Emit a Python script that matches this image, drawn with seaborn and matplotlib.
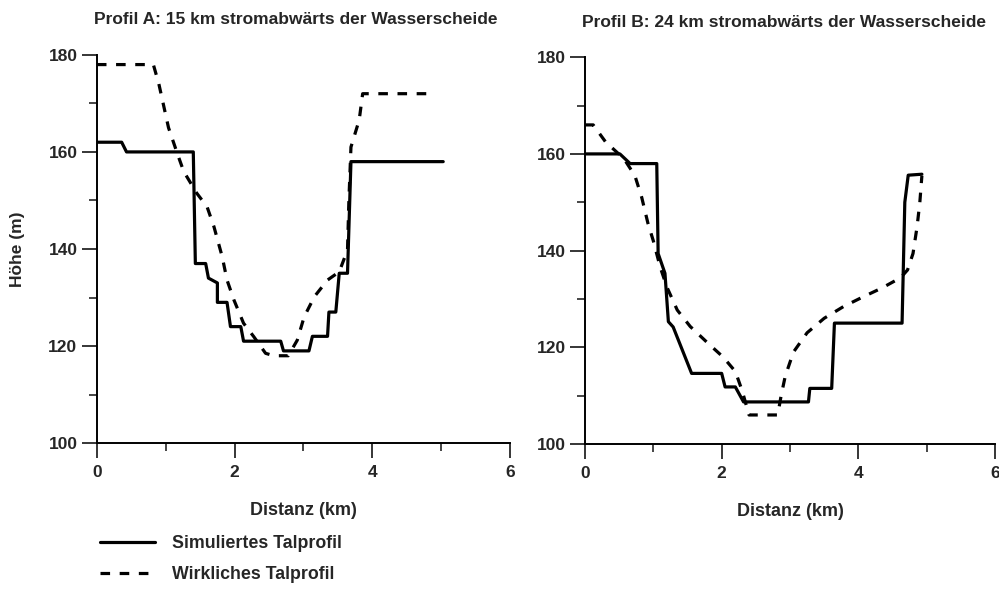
import matplotlib
matplotlib.use("Agg")
import matplotlib.pyplot as plt
from matplotlib.lines import Line2D
from matplotlib.ticker import MultipleLocator
import seaborn as sns
import pandas as pd

# Profil A (15 km stromabwärts)
x_sim_a = [0, 0.36, 0.43, 1.40, 1.43, 1.58, 1.62, 1.75, 1.75, 1.89, 1.94, 2.09, 2.13,
           2.67, 2.71, 3.08, 3.13, 3.35, 3.37, 3.47, 3.52, 3.64, 3.69, 5.03]
h_sim_a = [162, 162, 160, 160, 137, 137, 134, 133, 129, 129, 124, 124, 121,
           121, 119, 119, 122, 122, 127, 127, 135, 135, 158, 158]
x_real_a = [0, 0.82, 0.90, 1.04, 1.16, 1.26, 1.45, 1.60, 1.70, 1.82, 1.89, 1.99, 2.13,
            2.28, 2.45, 2.57, 2.78, 2.91, 3.01, 3.16, 3.35, 3.52, 3.64, 3.66, 3.69,
            3.81, 3.86, 4.84]
h_real_a = [178, 178, 174, 165, 160, 156, 151.5, 148.7, 144.6, 138.4, 133.6, 129.5, 124.7,
            121.9, 118.5, 118, 118, 121.2, 126, 130.2, 133.6, 135.3, 139.8, 150, 161,
            166.6, 172, 172]

# Profil B (24 km stromabwärts)
x_sim_b = [0, 0.51, 0.66, 1.05, 1.07, 1.17, 1.22, 1.29, 1.56, 2.00, 2.05, 2.20, 2.32,
           3.27, 3.29, 3.61, 3.65, 4.64, 4.68, 4.73, 4.93]
h_sim_b = [160, 160, 158, 158, 139.4, 135.3, 125.3, 124.2, 114.6, 114.6, 111.8, 111.8, 108.7,
           108.7, 111.5, 111.5, 125, 125, 150, 155.6, 155.8]
x_real_b = [0, 0.12, 0.30, 0.57, 0.73, 0.83, 0.92, 1.00, 1.10, 1.20, 1.35, 1.54, 1.81,
            2.02, 2.20, 2.30, 2.40, 2.82, 2.87, 2.93, 3.05, 3.25, 3.50, 3.78, 4.05,
            4.35, 4.62, 4.72, 4.80, 4.86, 4.90, 4.93]
h_real_b = [166, 166, 162.5, 159, 155.5, 151, 145.7, 142, 136.6, 132.4, 127.7, 124.3, 120.7,
            118, 115, 111, 106, 106, 110, 114, 119, 123, 126, 128.4, 130.3,
            132.3, 134.4, 136, 139.4, 145, 150, 155.5]

titel_a = "Profil A: 15 km stromabwärts der Wasserscheide"
titel_b = "Profil B: 24 km stromabwärts der Wasserscheide"
legende = ["Simuliertes Talprofil", "Wirkliches Talprofil"]

sns.set_style("ticks")
plt.rcParams['font.family'] = ['Liberation Sans', 'DejaVu Sans']

fig = plt.figure(figsize=(9.99, 5.90), dpi=100)
ax_a = fig.add_axes([0.097, 0.249, 0.4135, 0.658])
ax_b = fig.add_axes([0.5856, 0.2475, 0.4104, 0.6555])

strich = (0, (3, 3))

def profil(ax, xs, hs, xr, hr, titel):
    df_s = pd.DataFrame({'x': xs, 'h': hs})
    df_r = pd.DataFrame({'x': xr, 'h': hr})
    sns.lineplot(data=df_s, x='x', y='h', ax=ax, sort=False, estimator=None,
                 color='black', lw=2.3)
    sns.lineplot(data=df_r, x='x', y='h', ax=ax, sort=False, estimator=None,
                 color='black', lw=2.3, linestyle=strich)
    ax.set_xlim(0, 6)
    ax.set_ylim(100, 180)
    ax.xaxis.set_major_locator(MultipleLocator(2))
    ax.xaxis.set_minor_locator(MultipleLocator(1))
    ax.yaxis.set_major_locator(MultipleLocator(20))
    ax.yaxis.set_minor_locator(MultipleLocator(10))
    ax.tick_params(which='major', length=11, width=1.3, labelsize=12.5, pad=3)
    ax.tick_params(axis='x', which='major', pad=5)
    ax.tick_params(which='minor', length=5.5, width=1.2)
    for lab in ax.get_xticklabels() + ax.get_yticklabels():
        lab.set_fontweight('bold')
    sns.despine(ax=ax)
    for s in ['left', 'bottom']:
        ax.spines[s].set_linewidth(1.4)
        ax.spines[s].set_color('black')
    ax.set_xlabel('Distanz (km)', fontsize=13, fontweight='bold')
    ax.xaxis.set_label_coords(0.5, -0.152)
    ax.set_ylabel('')
    ax.set_title(titel, loc='left', fontsize=12.5, fontweight='bold', pad=22, x=-0.007)

profil(ax_a, x_sim_a, h_sim_a, x_real_a, h_real_a, titel_a)
profil(ax_b, x_sim_b, h_sim_b, x_real_b, h_real_b, titel_b)

ax_a.set_ylabel('Höhe (m)', fontsize=12.5, fontweight='bold')
ax_a.yaxis.set_label_coords(-0.173, 0.5)

handles = [Line2D([], [], color='black', lw=2.3),
           Line2D([], [], color='black', lw=2.3, linestyle=strich)]
fig.legend(handles, legende, loc='upper left', bbox_to_anchor=(0.084, 0.12),
           frameon=False, handlelength=3.1, handletextpad=0.95, labelspacing=0.8,
           prop={'size': 12.8, 'weight': 'bold'})

fig.savefig('out.png', dpi=100)
